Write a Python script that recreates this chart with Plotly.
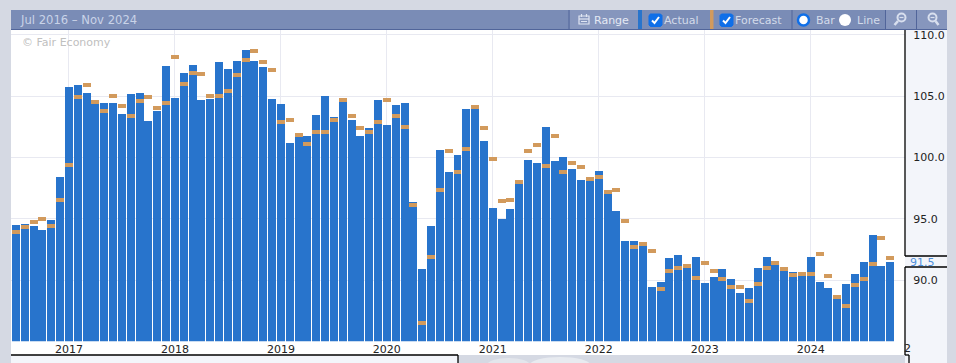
import plotly.graph_objects as go
import pandas as pd

months = [d.strftime("%Y-%m") for d in pd.date_range("2016-07-01", periods=100, freq="MS")]
actual = [94.48,94.56,94.40,94.08,94.89,98.42,105.73,105.89,105.24,104.5,104.43,104.43,103.53,105.16,105.24,102.96,103.77,107.44,104.83,106.87,
          107.52,104.67,104.75,107.77,107.2,107.85,108.75,107.85,107.36,104.75,104.34,101.17,101.65,101.74,103.45,105.0,103.28,104.51,103.04,101.74,
          102.39,104.67,102.63,104.26,104.43,96.36,90.9,94.4,100.6,98.8,100.19,103.94,103.94,101.33,95.87,94.97,95.79,97.99,99.78,99.54,
          102.47,99.7,100.02,99.05,98.15,98.07,98.88,97.0,95.62,93.18,93.18,92.77,89.43,89.84,91.79,92.04,90.98,91.87,89.76,90.24,
          90.9,90.08,88.94,89.35,90.98,91.87,91.22,90.73,90.65,90.33,91.87,89.84,89.35,88.45,89.67,90.49,91.47,93.67,91.14,91.47]
forecast = [93.94,94.32,94.73,94.97,94.4,96.52,99.37,104.91,105.89,104.51,103.77,105.0,104.18,103.37,104.59,104.91,104.02,104.43,108.17,105.97,
            106.87,106.79,105.0,105.0,105.4,106.71,107.93,108.66,107.77,107.11,102.88,103.04,101.82,101.08,102.06,102.06,103.04,104.67,103.37,102.39,
            102.06,102.88,104.67,103.37,102.47,96.11,86.5,91.87,97.34,100.51,98.8,100.67,104.1,102.39,99.86,96.44,96.52,97.99,100.51,101.0,
            99.29,101.74,98.8,99.54,99.21,98.23,98.39,97.17,97.34,94.81,92.69,92.93,92.36,89.27,90.73,90.98,91.14,90.16,91.39,90.73,
            90.08,89.43,89.43,88.29,89.67,90.98,91.39,90.9,90.41,90.49,90.49,92.12,90.33,88.61,87.88,89.59,90.08,91.31,93.42,91.79]
year_ticks = ["2017-01","2018-01","2019-01","2020-01","2021-01","2022-01","2023-01","2024-01"]
year_labels = ["2017","2018","2019","2020","2021","2022","2023","2024"]
y_ticks = [90,95,100,105,110]
y_labels = ["90.0","95.0","100.0","105.0","110.0"]
FORECAST_TICK = 0.33

W, H = 956, 363
FONT = "DejaVu Sans"
PAGE = "#d5d9e3"; PANEL = "#f3f5fa"; BAR = "#2874cc"; FC = "#d29a5c"
TOOL = "#7a8cb6"; TOOLB = "#8696bd"; TXT = "#c9d3e8"; SEP = "#51659a"

fx = lambda p: p / W
fy = lambda p: 1 - p / H
shapes = []
def rect(x0, y0, x1, y1, fill, line=None, width=0, layer="above"):
    shapes.append(dict(type="rect", xref="paper", yref="paper", x0=fx(x0), x1=fx(x1), y0=fy(y0), y1=fy(y1),
                       fillcolor=fill, line=dict(color=line or fill, width=width), layer=layer))
def seg(x0, y0, x1, y1, color="#000", width=1.3):
    shapes.append(dict(type="line", xref="paper", yref="paper", x0=fx(x0), x1=fx(x1), y0=fy(y0), y1=fy(y1),
                       line=dict(color=color, width=width), layer="above"))
def oval(x0, y0, x1, y1, fill, line=None, width=0):
    shapes.append(dict(type="circle", xref="paper", yref="paper", x0=fx(x0), x1=fx(x1), y0=fy(y0), y1=fy(y1),
                       fillcolor=fill, line=dict(color=line or fill, width=width), layer="above"))
def path(pts, color, width, fill="rgba(0,0,0,0)"):
    d = "M" + " L".join(f"{fx(a):.5f},{fy(b):.5f}" for a, b in pts)
    shapes.append(dict(type="path", xref="paper", yref="paper", path=d, line=dict(color=color, width=width),
                       fillcolor=fill, layer="above"))

# page chrome
rect(0, 0, W, 10, PAGE)
rect(0, 0, 11, H, PAGE)
rect(947, 0, W, H, PAGE)
rect(905, 30, 947, H, PANEL, layer="below")
rect(11, 355, 458, H, PANEL)
rect(458, 355, 905, H, PAGE)
rect(905, 355, 909, H, PANEL)
oval(487, 358, 530, 372, "#e3e6ec")
oval(530, 357, 590, 372, "#e8ebf0")
seg(905, 30, 905, 256); seg(905, 256, 947, 256)
seg(905, 267, 947, 267); seg(905, 267, 905, 355)
seg(11, 355, 458, 355); seg(458, 355, 458, H)
seg(905, 355, 909, 355); seg(909, 355, 909, H)

# toolbar
rect(11, 10, 947, 29.5, TOOL)
seg(11, 29.5, 947, 29.5, SEP, 1)
rect(570, 10, 638, 29, TOOLB)
rect(886, 10, 947, 29, TOOLB)
for xs in (569, 792, 885.5, 916.5):
    seg(xs, 10, xs, 29, SEP, 1)
rect(638, 10, 642, 29, BAR)
rect(710, 10, 713.5, 29, FC)
# calendar icon
rect(579, 16, 589, 24, "rgba(0,0,0,0)", "#dfe5f2", 1.2)
seg(579, 19, 589, 19, "#dfe5f2", 1.2)
seg(581.5, 14, 581.5, 17, "#dfe5f2", 1.2); seg(586.5, 14, 586.5, 17, "#dfe5f2", 1.2)
seg(581, 21.5, 587, 21.5, "#dfe5f2", 1)
# checkboxes
for x0 in (649, 720):
    path([(x0+1.5, 14), (x0+11.5, 14), (x0+13, 15.5), (x0+13, 25), (x0+11.5, 26.5), (x0+1.5, 26.5), (x0, 25), (x0, 15.5), (x0+1.5, 14)],
         "#0f6fe8", 1, "#0f6fe8")
    path([(x0+3, 20.5), (x0+5.5, 23), (x0+10, 17)], "white", 2)
# radios
oval(798, 14.5, 809, 25.5, "white", "#0f6fe8", 2.5)
oval(839, 14, 851, 26, "white")
# magnifiers
for x0, plus in ((901, True), (932, False)):
    oval(x0-3.5, 13.5, x0+4.5, 21.5, "rgba(0,0,0,0)", "#d8dfee", 2)
    seg(x0-3, 21, x0-6.5, 25, "#d8dfee", 2.5) if plus else seg(x0+3.5, 21, x0+6.5, 25, "#d8dfee", 2.5)
    seg(x0-1.5, 17.5, x0+2.5, 17.5, "#d8dfee", 1.2)

def note(x, y, text, color=TXT, size=11, anchor="left"):
    return dict(xref="paper", yref="paper", x=fx(x), y=fy(y), text=text, showarrow=False, xanchor=anchor,
                yanchor="middle", font=dict(family=FONT, size=size, color=color))

notes = [
    note(18, 20, "Jul 2016 – Nov 2024", TXT, 11.6),
    note(592, 20, "Range", "#e4e9f4", 11),
    note(662, 20, "Actual", "#d3dbea"),
    note(733, 20, "Forecast", "#d3dbea"),
    note(814, 20, "Bar", "#d3dbea"),
    note(855, 20, "Line", "#d3dbea"),
    note(20, 43, "© Fair Economy", "#c0c0c0", 11),
    note(908, 262, "91.5", "#4f90dc", 11),
    note(901.5, 348, "2", "#222222", 11),
]

fig = go.Figure()
fig.add_bar(x=months, y=actual, marker=dict(color=BAR, line_width=0), width=0.905, name="Actual")
fig.add_bar(x=months, y=[FORECAST_TICK] * len(forecast), base=[v - FORECAST_TICK / 2 for v in forecast],
            marker=dict(color=FC, line_width=0), width=0.905, name="Forecast")
fig.update_layout(
    width=W, height=H, margin=dict(l=0, r=0, t=0, b=0), showlegend=False, barmode="overlay",
    paper_bgcolor="white", plot_bgcolor="white", font=dict(family=FONT, size=11, color="#222222"),
    xaxis=dict(type="category", categoryorder="array", categoryarray=months, domain=[fx(11), fx(905)],
               range=[-0.566, 100.68], tickmode="array", tickvals=year_ticks, ticktext=year_labels,
               showgrid=True, gridcolor="#e8e9f1", gridwidth=1, zeroline=False, showline=False, ticks="",
               tickfont=dict(family=FONT, size=11, color="#222222"), anchor="y"),
    yaxis=dict(domain=[fy(341.35), fy(30)], range=[85, 110.4], side="right", tickmode="array", tickvals=y_ticks,
               ticktext=y_labels, showgrid=True, gridcolor="#e8e9f1", gridwidth=1, zeroline=False, showline=False,
               ticks="outside", ticklen=5, tickcolor="rgba(0,0,0,0)", anchor="x",
               tickfont=dict(family=FONT, size=11, color="#222222")),
    shapes=shapes, annotations=notes, bargap=0,
)
fig.write_html("out.html", config=dict(displayModeBar=False),
               post_script="document.body.style.margin='0';document.body.style.overflow='hidden';")
